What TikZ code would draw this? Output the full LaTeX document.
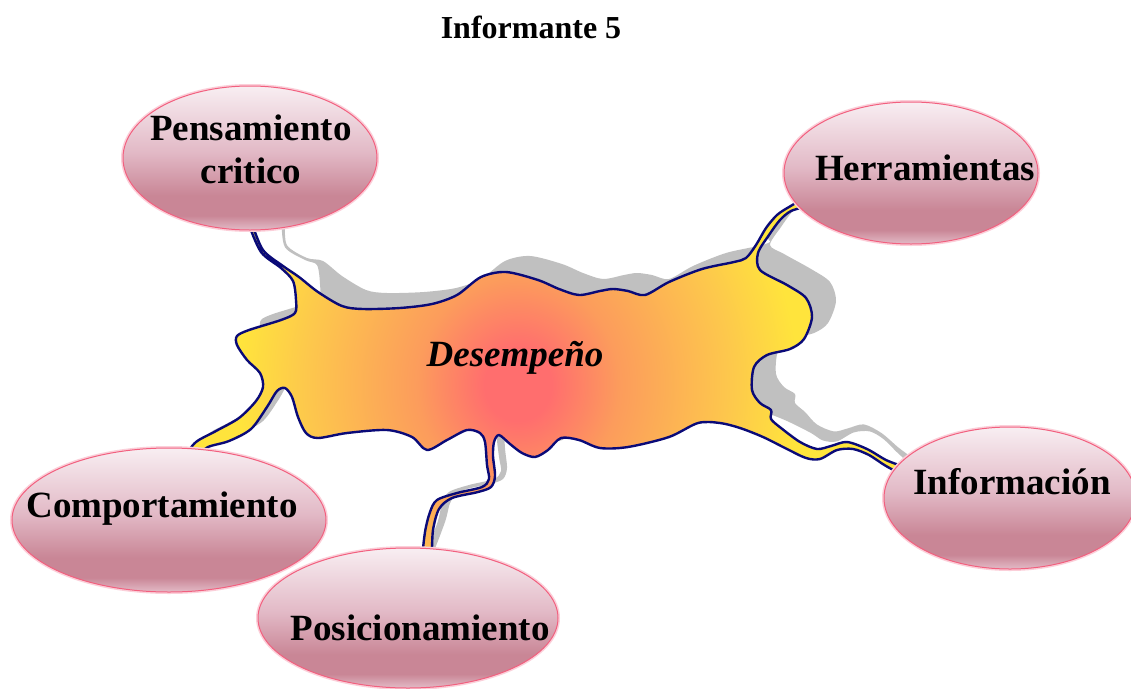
\documentclass[tikz,border=0pt]{standalone}
\usepackage{fontspec}
\setmainfont{Liberation Serif}
\usetikzlibrary{shapes.geometric}
\definecolor{navyl}{HTML}{0A0A78}
\definecolor{shadowg}{HTML}{C0C0C0}
\definecolor{bred}{HTML}{FF6E6E}
\definecolor{borng}{HTML}{FC9C5C}
\definecolor{bylwb}{HTML}{FDC84C}
\definecolor{bylw}{HTML}{FFE43C}
\definecolor{ellT}{HTML}{F8EEF2}
\definecolor{ellM}{HTML}{E2B9C6}
\definecolor{ellD}{HTML}{C98696}
\definecolor{ellB}{HTML}{E3BBC7}
\definecolor{ellBorder}{HTML}{F2607F}
\pgfdeclareradialshading{blobshade}{\pgfpoint{0bp}{0bp}}{color(0bp)=(bred); color(3bp)=(bred); color(9bp)=(borng); color(19bp)=(bylwb); color(25bp)=(bylw); color(50bp)=(bylw)}
\pgfdeclareverticalshading{ellshade}{100bp}{color(0bp)=(ellB); color(25bp)=(ellB); color(30bp)=(ellD); color(37bp)=(ellD); color(52bp)=(ellM); color(75bp)=(ellT); color(100bp)=(ellT)}
\def\sx{0}\def\sy{0}
\newcommand\blobpath{plot[smooth cycle, tension=0.5] coordinates {
({251+1.4*\sx},222) ({263+\sx},{250+.3*\sy}) ({283+\sx},{266+.5*\sy})
({299+\sx},{277+\sy}) ({318+\sx},{292+\sy}) ({342+\sx},{306+\sy}) ({363+\sx},{309+\sy})
({400+\sx},{308+\sy}) ({432+\sx},{304+\sy}) ({457+\sx},{295+\sy}) ({481+\sx},{277+\sy})
({506+\sx},{272+\sy}) ({538+\sx},{280+\sy}) ({559+\sx},{289+\sy}) ({579+\sx},{295+\sy})
({600+\sx},{291+\sy}) ({613+\sx},{289+\sy}) ({628+\sx},{291+\sy}) ({645+\sx},{295+\sy})
({669+\sx},{282+\sy}) ({702+\sx},{269+\sy}) ({734+\sx},{262+\sy}) ({746+\sx},{258+\sy})
({756+.5*\sx},{245+.5*\sy}) ({766+.5*\sx},{228+.5*\sy}) ({777+.5*\sx},{215+.5*\sy}) ({789+.5*\sx},{207+.5*\sy})
(806,198) (809,205)
({791+.5*\sx},{211+.5*\sy}) ({780+.5*\sx},{220+.5*\sy}) ({769+.5*\sx},{235+.5*\sy}) ({758+.5*\sx},{253+.5*\sy})
({760+\sx},{270+\sy}) ({787+\sx},{285+\sy}) ({806+\sx},{298+\sy}) ({812+\sx},{317+\sy})
({804+\sx},{339+\sy}) ({790+\sx},{349+\sy}) ({767+\sx},{355+\sy}) ({754+\sx},{367+\sy})
({752+\sx},{390+\sy}) ({760+\sx},{403+\sy}) ({771+\sx},{410+\sy}) ({771+\sx},{419+\sy})
({781+\sx},{428+\sy})
({800+.7*\sx},{442+1.1*\sy}) ({817+.7*\sx},{449+1.1*\sy}) ({831+.7*\sx},{446+1.1*\sy}) ({847+.7*\sx},{442+1.1*\sy})
({867+.6*\sx},{449+1.0*\sy}) ({886+.5*\sx},{460+.8*\sy})
({905+.3*\sx},{468+.6*\sy}) ({906+.3*\sx},{476+.6*\sy})
({886+.5*\sx},{466+.8*\sy}) ({869+.6*\sx},{455+1.0*\sy}) ({853+.7*\sx},{449+1.1*\sy}) ({837+.7*\sx},{450+1.1*\sy})
({820+.7*\sx},{459+1.1*\sy}) ({806+.7*\sx},{458+1.1*\sy})
({787+\sx},{449+\sy}) ({763+\sx},{437+\sy}) ({740+\sx},{428+\sy}) ({720+\sx},{423+\sy})
({698+\sx},{423+\sy}) ({669+\sx},{437+\sy}) ({628+\sx},{447+\sy}) ({600+\sx},{448+\sy})
({579+\sx},{440+\sy}) ({561+\sx},{438+\sy}) ({548+\sx},{450+\sy}) ({535+\sx},{457+\sy})
({522+\sx},{453+\sy}) ({510+\sx},{444+\sy}) ({499+\sx},{435+\sy})
({494+.5*\sx},{442+.5*\sy}) ({493+.5*\sx},{456+.5*\sy}) ({495+.5*\sx},{476+.5*\sy}) ({491+.5*\sx},{487+.5*\sy})
({478+.5*\sx},{492+.5*\sy}) ({452+.5*\sx},{498+.5*\sy}) ({439+.5*\sx},{509+.5*\sy}) ({433+.5*\sx},{530+.5*\sy})
(431,557) (423,557)
({425+.5*\sx},{532+.5*\sy}) ({430+.5*\sx},{512+.5*\sy}) ({437+.5*\sx},{500+.5*\sy}) ({457+.5*\sx},{493+.5*\sy})
({482+.5*\sx},{487+.5*\sy}) ({489+.5*\sx},{479+.5*\sy}) ({487+.5*\sx},{465+.5*\sy}) ({485+.5*\sx},{442+.5*\sy})
({480+\sx},{433+\sy}) ({467+\sx},{430+\sy}) ({447+\sx},{440+\sy}) ({427+\sx},{450+\sy})
({412+\sx},{437+\sy}) ({387+\sx},{430+\sy}) ({347+\sx},{433+\sy}) ({318+\sx},{438+\sy})
({306+\sx},{433+\sy}) ({298+\sx},{417+\sy}) ({292+\sx},{397+\sy}) ({285+\sx},{388+\sy})
({277+.5*\sx},{391+.5*\sy}) ({267+.5*\sx},{407+.5*\sy}) ({251+.5*\sx},{429+.5*\sy}) ({229+.5*\sx},{441+.5*\sy})
({208+.5*\sx},{447+.5*\sy})
(197,456) (186,456)
({196+.5*\sx},{442+.5*\sy}) ({216+.5*\sx},{431+.5*\sy}) ({239+.5*\sx},{418+.5*\sy}) ({256+.5*\sx},{401+.5*\sy})
({263+\sx},{387+\sy}) ({260+\sx},{373+\sy}) ({247+\sx},{360+\sy}) ({237+\sx},{345+\sy})
({237+\sx},{336+\sy}) ({249+\sx},{330+\sy}) ({281+\sx},{320+\sy}) ({295+\sx},{313+\sy})
({296+\sx},{300+\sy}) ({293+\sx},{281+\sy})
({281+\sx},{268+.5*\sy}) ({261+\sx},{252+.3*\sy}) ({248+1.4*\sx},222)
}}
\begin{document}
\begin{tikzpicture}[x=1pt,y=-1pt,
  ellnode/.style={ellipse, inner sep=0pt, shade, shading=ellshade, draw=ellBorder, line width=1pt,
    preaction={draw=ellBorder!30, line width=4pt}},
  lbl/.style={font=\fontsize{37}{43}\selectfont\bfseries, inner sep=0pt, anchor=base}]
\fill[white] (0,0) rectangle (1131,688);
\useasboundingbox (0,0) rectangle (1131,688);
\node[font=\fontsize{32}{36}\selectfont\bfseries, inner sep=0pt, anchor=base] (title) at (531,38) {Informante 5};
% shadow
\def\sx{24}\def\sy{(-16)}
\fill[shadowg] \blobpath;
% blob
\def\sx{0}\def\sy{0}
\begin{scope}
\clip \blobpath;
\fill[bylw] (0,0) rectangle (1131,688);
\shade[shading=blobshade] (238,85) rectangle (798,685);
\end{scope}
\draw[navyl, line width=2.4pt, line join=round] \blobpath;
\node[font=\fontsize{37}{43}\selectfont\bfseries\itshape, inner sep=0pt, anchor=base] (des) at (515,366) {Desempeño};
% ellipses
\node[ellnode, minimum width=254pt, minimum height=144pt] (pens) at (250,158) {};
\node[ellnode, minimum width=254pt, minimum height=142pt] (herr) at (911,173) {};
\node[ellnode, minimum width=252pt, minimum height=142pt] (info) at (1010,498) {};
\node[ellnode, minimum width=314pt, minimum height=144pt] (comp) at (169,520) {};
\node[ellnode, minimum width=300pt, minimum height=140pt] (posi) at (408,618) {};
% labels
\node[lbl] (pensA) at (251,140) {Pensamiento};
\node[lbl] (pensB) at (251,183) {critico};
\node[lbl] (herrT) at (925,180) {Herramientas};
\node[lbl] (infoT) at (1012,494) {Información};
\node[lbl] (compT) at (162,517) {Comportamiento};
\node[lbl] (posiT) at (420,640) {Posicionamiento};
\end{tikzpicture}
\end{document}
